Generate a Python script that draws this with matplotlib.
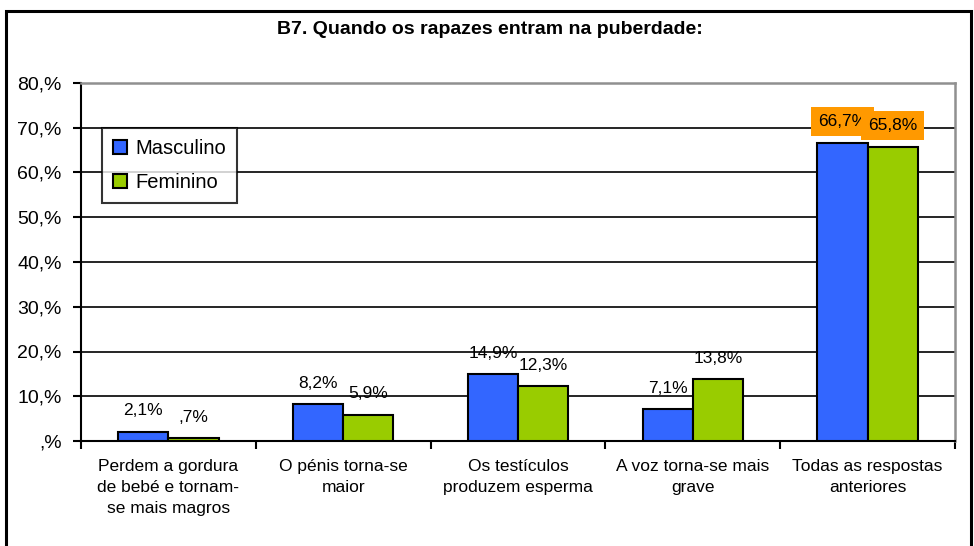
import numpy as np
import matplotlib.pyplot as plt
from matplotlib.patches import Rectangle

plt.rcParams['font.family'] = ['Liberation Sans', 'DejaVu Sans']

# data
categories = ["Perdem a gordura\nde bebé e tornam-\nse mais magros",
              "O pénis torna-se\nmaior",
              "Os testículos\nproduzem esperma",
              "A voz torna-se mais\ngrave",
              "Todas as respostas\nanteriores"]
masculino = [2.1, 8.2, 14.9, 7.1, 66.7]
feminino = [0.7, 5.9, 12.3, 13.8, 65.8]
yticks = [0, 10, 20, 30, 40, 50, 60, 70, 80]
ytick_labels = [",%", "10,%", "20,%", "30,%", "40,%", "50,%", "60,%", "70,%", "80,%"]

fig = plt.figure(figsize=(9.74, 5.46), dpi=100)
ax = fig.add_axes([81/974, 1-441/546, 874/974, 358/546])

x = np.arange(len(categories))
w = 0.287
ax.bar(x - w/2, masculino, w, color='#3366FF', edgecolor='black', linewidth=1.5, label='Masculino', zorder=3)
ax.bar(x + w/2, feminino, w, color='#99CC00', edgecolor='black', linewidth=1.5, label='Feminino', zorder=3)

ax.set_xlim(-0.5, len(categories) - 0.5)
ax.set_ylim(0, 80)
ax.set_yticks(yticks)
ax.set_yticklabels(ytick_labels, fontsize=14)
ax.yaxis.grid(True, color='black', linewidth=1.2, zorder=0)
ax.set_axisbelow(True)

# category labels between boundary ticks
ax.set_xticks(np.arange(len(categories) + 1) - 0.5)
ax.set_xticklabels([])
ax.tick_params(axis='x', direction='out', length=6, width=1.5)
ax.tick_params(axis='y', direction='out', length=6, width=1.5, pad=8)
for i, lab in enumerate(categories):
    ax.text(i, -4.0, lab, ha='center', va='top', fontsize=12.5, linespacing=1.5)

for s in ['left', 'bottom']:
    ax.spines[s].set_linewidth(1.5)
for s in ['top', 'right']:
    ax.spines[s].set_color('#909090')
    ax.spines[s].set_linewidth(1.8)

def fmt(v):
    s = f"{v:.1f}".replace('.', ',')
    if s.startswith('0'):
        s = s[1:]
    return s + '%'

for i, (m, f) in enumerate(zip(masculino, feminino)):
    box = dict(boxstyle='square,pad=0.4', fc='#FF9900', ec='none') if i == 4 else None
    ax.annotate(fmt(m), (i - w/2, m), xytext=(0, 15), textcoords='offset points',
                ha='center', va='center', fontsize=12.5, bbox=box, zorder=5)
    ax.annotate(fmt(f), (i + w/2, f), xytext=(0, 15), textcoords='offset points',
                ha='center', va='center', fontsize=12.5, bbox=box, zorder=5)

leg = ax.legend(loc='upper left', bbox_to_anchor=(21/874, 1 - 45/358), borderaxespad=0,
                fontsize=14.5, frameon=True, fancybox=False, edgecolor='black',
                handlelength=0.7, handleheight=0.7, handletextpad=0.4,
                labelspacing=0.75, borderpad=0.55)
leg.get_frame().set_linewidth(1.5)

fig.text(490/974, 1 - 30/546, "B7. Quando os rapazes entram na puberdade:",
         ha='center', va='center', fontsize=14, fontweight='bold')

# outer chart border
fig.patches.append(Rectangle((6/974, -0.05), 965/974, 1.05 - 11/546, transform=fig.transFigure,
                             fill=False, edgecolor='black', linewidth=2.2))

fig.savefig('out.png', dpi=100)
